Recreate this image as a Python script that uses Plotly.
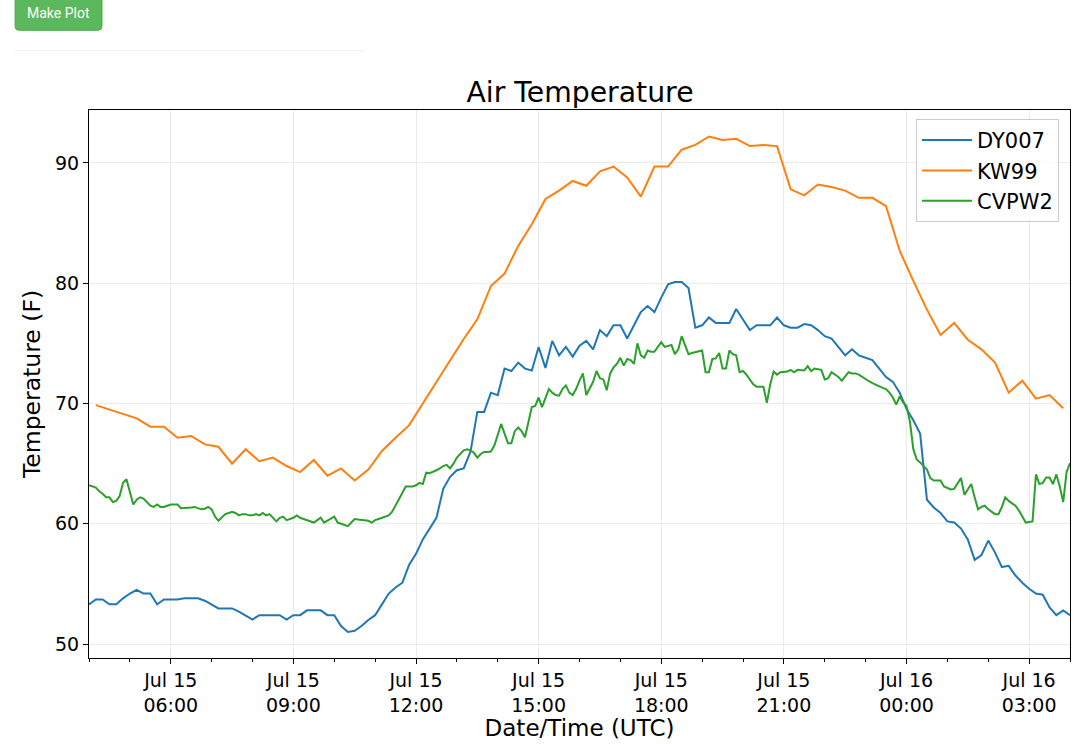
import pandas as pd
import plotly.graph_objects as go

# ---------------- data ----------------
start_day = "2018-07-15"

# DY007: every 10 minutes from 04:00 (Jul 15) to 04:00 (Jul 16)
dy007 = [
    53.3, 53.7, 53.7, 53.3, 53.3, 53.8,      # 04
    54.2, 54.5, 54.2, 54.2, 53.3, 53.7,      # 05
    53.7, 53.7, 53.8, 53.8, 53.8, 53.6,      # 06
    53.3, 52.96, 52.96, 52.96, 52.7, 52.4,   # 07
    52.04, 52.4, 52.4, 52.4, 52.4, 52.04,    # 08
    52.4, 52.4, 52.8, 52.8, 52.8, 52.4,      # 09
    52.4, 51.5, 51.0, 51.1, 51.5, 52.0,      # 10
    52.4, 53.3, 54.2, 54.7, 55.1, 56.6,      # 11
    57.5, 58.7, 59.6, 60.5, 62.9, 63.9,      # 12
    64.45, 64.6, 66.0, 69.3, 69.3, 70.9,     # 13
    70.7, 72.9, 72.7, 73.4, 72.9, 72.75,     # 14
    74.7, 72.96, 75.2, 74.0, 74.7, 73.9,     # 15
    74.8, 75.2, 74.5, 76.1, 75.6, 76.5,      # 16
    76.5, 75.4, 76.5, 77.6, 78.1, 77.6,      # 17
    78.8, 79.9, 80.1, 80.1, 79.6, 76.3,      # 18
    76.5, 77.15, 76.7, 76.7, 76.7, 77.85,    # 19
    77.0, 76.1, 76.5, 76.5, 76.5, 77.15,     # 20
    76.5, 76.3, 76.3, 76.6, 76.5, 76.1,      # 21
    75.6, 75.4, 74.7, 74.0, 74.5, 74.0,      # 22
    73.8, 73.6, 72.9, 72.2, 71.8, 70.9,      # 23
    69.55, 68.6, 67.5, 62.0, 61.35, 60.9,    # 00
    60.2, 60.1, 59.6, 58.7, 57.0, 57.4,      # 01
    58.6, 57.6, 56.4, 56.5, 55.7, 55.1,      # 02
    54.6, 54.2, 54.1, 53.05, 52.4, 52.8,     # 03
    52.4,                                     # 04
]

# KW99: every 20 minutes, from 04:10 (Jul 15) to 03:50 (Jul 16)
kw99 = [
    69.86, 69.5, 69.1,    # 04
    68.76, 68.07, 68.07,  # 05
    67.15, 67.3, 66.6,    # 06
    66.4, 65.0, 66.2,     # 07
    65.2, 65.5, 64.8,     # 08
    64.3, 65.3, 64.0,     # 09
    64.6, 63.6, 64.5,     # 10
    66.05, 67.15, 68.2,   # 11
    70.0, 71.8, 73.6,     # 12
    75.36, 77.0, 79.77,   # 13
    80.8, 83.1, 84.9,     # 14
    87.0, 87.7, 88.5,     # 15
    88.1, 89.3, 89.7,     # 16
    88.8, 87.2, 89.7,     # 17
    89.7, 91.1, 91.5,     # 18
    92.2, 91.9, 92.0,     # 19
    91.4, 91.5, 91.4,     # 20
    87.8, 87.3, 88.2,     # 21
    88.0, 87.7, 87.1,     # 22
    87.1, 86.4, 82.7,     # 23
    80.2, 77.8, 75.7,     # 00
    76.7, 75.3, 74.5,     # 01
    73.4, 70.9, 71.9,     # 02
    70.4, 70.7, 69.6,     # 03
]

# CVPW2: every 5 minutes from 04:00 (Jul 15) to 04:00 (Jul 16)
cvpw2 = [
    63.2, 63.1, 63.0, 62.7, 62.5, 62.2, 62.2, 61.8, 61.9, 62.3, 63.4, 63.7,        # 04
    62.7, 61.6, 62.0, 62.2, 62.1, 61.8, 61.5, 61.4, 61.6, 61.4, 61.4, 61.5,        # 05
    61.6, 61.6, 61.6, 61.3, 61.3, 61.3, 61.35, 61.4, 61.3, 61.2, 61.25, 61.4,      # 06
    61.2, 60.6, 60.25, 60.5, 60.8, 60.9, 61.0, 60.9, 60.7, 60.8, 60.8, 60.7,       # 07
    60.7, 60.8, 60.7, 60.9, 60.7, 60.8, 60.5, 60.2, 60.5, 60.6, 60.3, 60.4,        # 08
    60.5, 60.7, 60.5, 60.4, 60.3, 60.2, 60.1, 60.3, 60.5, 60.1, 60.25, 60.4,       # 09
    60.6, 60.1, 60.0, 59.9, 59.8, 60.1, 60.4, 60.35, 60.3, 60.3, 60.25, 60.1,      # 10
    60.3, 60.4, 60.5, 60.6, 60.7, 61.0, 61.5, 62.0, 62.5, 63.1, 63.1, 63.1,        # 11
    63.2, 63.4, 63.3, 64.25, 64.2, 64.3, 64.45, 64.6, 64.8, 64.9, 64.6, 65.0,      # 12
    65.5, 65.8, 66.1, 66.2, 66.1, 65.9, 65.5, 65.8, 65.97, 65.97, 66.0, 66.5,      # 13
    67.4, 68.3, 67.5, 66.7, 66.7, 67.7, 68.0, 67.7, 67.2, 68.5, 69.7, 69.8,        # 14
    70.5, 69.7, 70.5, 71.2, 70.9, 70.7, 70.65, 71.2, 71.5, 70.9, 70.7, 71.2,       # 15
    71.9, 72.5, 70.7, 71.2, 71.8, 72.7, 72.1, 72.0, 71.1, 72.5, 73.0, 73.3,        # 16
    73.8, 73.15, 73.7, 73.6, 73.3, 75.0, 74.0, 73.8, 74.4, 74.3, 74.3, 74.7,       # 17
    75.1, 74.7, 74.8, 74.86, 74.1, 74.5, 75.6, 74.9, 74.1, 74.2, 74.25, 74.35,     # 18
    74.4, 72.6, 72.6, 73.7, 73.75, 74.2, 72.9, 72.9, 74.4, 74.1, 74.0, 72.6,       # 19
    72.7, 72.4, 72.0, 71.6, 71.4, 71.4, 71.4, 70.05, 71.6, 72.65, 72.4, 72.6,      # 20
    72.65, 72.65, 72.8, 72.6, 72.8, 72.75, 72.75, 73.1, 72.7, 72.9, 72.85, 72.8,   # 21
    72.0, 72.1, 72.6, 72.4, 72.2, 71.9, 72.3, 72.6, 72.5, 72.5, 72.4, 72.2,        # 22
    72.0, 71.85, 71.7, 71.55, 71.4, 71.3, 71.2, 70.9, 70.5, 69.9, 70.6, 70.1,      # 23
    69.8, 68.5, 66.2, 65.35, 65.1, 64.8, 64.5, 63.8, 63.6, 63.6, 63.6, 63.1,       # 00
    63.0, 62.85, 62.9, 63.4, 63.8, 62.4, 62.9, 63.3, 62.2, 61.2, 61.4, 61.5,       # 01
    61.2, 61.0, 60.8, 60.8, 61.4, 62.2, 61.9, 61.7, 61.5, 61.1, 60.6, 60.1,        # 02
    60.15, 60.2, 64.1, 63.3, 63.4, 63.85, 63.85, 63.3, 64.1, 63.1, 61.8, 64.3,     # 03
    65.05,                                                                         # 04
]

series_names = ["DY007", "KW99", "CVPW2"]
series_colors = ["#1f77b4", "#ff7f0e", "#2ca02c"]
y_ticks = [50, 60, 70, 80, 90]

t_dy = pd.date_range(f"{start_day} 04:00", periods=len(dy007), freq="10min")
t_kw = pd.date_range(f"{start_day} 04:10", periods=len(kw99), freq="20min")
t_cv = pd.date_range(f"{start_day} 04:00", periods=len(cvpw2), freq="5min")

# ---------------- figure ----------------
W, H = 1079, 744
L, R, T, B = 89, 1071, 110, 660   # plot-area pixel box

def px(x):
    return (x - L) / (R - L)

def py(y):
    return (B - y) / (B - T)

font_family = "DejaVu Sans"
fig = go.Figure()
for name, color, tt, vv in zip(series_names, series_colors,
                               [t_dy, t_kw, t_cv], [dy007, kw99, cvpw2]):
    fig.add_trace(go.Scatter(x=tt, y=vv, mode="lines", name=name,
                             line=dict(color=color, width=2)))

axis_common = dict(
    showline=True, linecolor="black", linewidth=1, mirror=True,
    ticks="outside", ticklen=5, tickwidth=1, tickcolor="black",
    showgrid=True, gridcolor="#ebebeb", gridwidth=1, zeroline=False,
    tickfont=dict(family=font_family, size=19, color="black"),
)

fig.update_layout(
    width=W, height=H,
    margin=dict(l=L, r=W - R, t=T, b=H - B, pad=0),
    paper_bgcolor="white", plot_bgcolor="white",
    font=dict(family=font_family, color="black"),
    title=dict(text="Air Temperature", xref="container", x=580 / W, xanchor="center",
               yref="container", y=1 - 92 / H, yanchor="middle",
               font=dict(family=font_family, size=28.3, color="black")),
    showlegend=True,
    legend=dict(x=px(1060), xanchor="right", y=py(119), yanchor="top",
                itemwidth=50,
                bgcolor="rgba(255,255,255,0.8)", bordercolor="#cccccc",
                borderwidth=1, font=dict(family=font_family, size=21, color="black")),
    xaxis=dict(
        **axis_common,
        type="date",
        range=[f"{start_day} 04:00", "2018-07-16 04:00"],
        tick0=f"{start_day} 00:00", dtick=3 * 3600 * 1000,
        tickformat="%b %d<br>%H:%M",
        minor=dict(dtick=3600 * 1000, ticks="outside", ticklen=3,
                   tickcolor="black", showgrid=False),
        title=dict(text="Date/Time (UTC)", standoff=4,
                   font=dict(family=font_family, size=23, color="black")),
    ),
    yaxis=dict(
        **axis_common,
        range=[48.84, 94.4],
        tickvals=y_ticks,
        title=dict(text="Temperature (F)", standoff=7,
                   font=dict(family=font_family, size=23.5, color="black")),
    ),
)

# page decorations: "Make Plot" button and thin separator line
bx0, bx1, by0, by1, r = 15, 102, -6, 30, 4
path = (f"M {px(bx0)},{py(by0)} L {px(bx1)},{py(by0)} L {px(bx1)},{py(by1 - r)} "
        f"Q {px(bx1)},{py(by1)} {px(bx1 - r)},{py(by1)} L {px(bx0 + r)},{py(by1)} "
        f"Q {px(bx0)},{py(by1)} {px(bx0)},{py(by1 - r)} Z")
fig.add_shape(type="path", path=path, xref="paper", yref="paper",
              fillcolor="#5cb85c", line=dict(color="#4cae4c", width=1))
fig.add_annotation(text="Make Plot", x=px(58.5), y=py(13), xref="paper", yref="paper",
                   showarrow=False, xanchor="center", yanchor="middle",
                   font=dict(family="Roboto", size=14, color="white"))
fig.add_shape(type="line", xref="paper", yref="paper",
              x0=px(15), x1=px(365), y0=py(50.5), y1=py(50.5),
              line=dict(color="#eeeeee", width=1))

# place the figure at the page's top-left corner (no default body margin)
fig.write_html("out.html", config={"displayModeBar": False},
               post_script="document.body.style.margin='0px';document.body.style.overflow='hidden';")
